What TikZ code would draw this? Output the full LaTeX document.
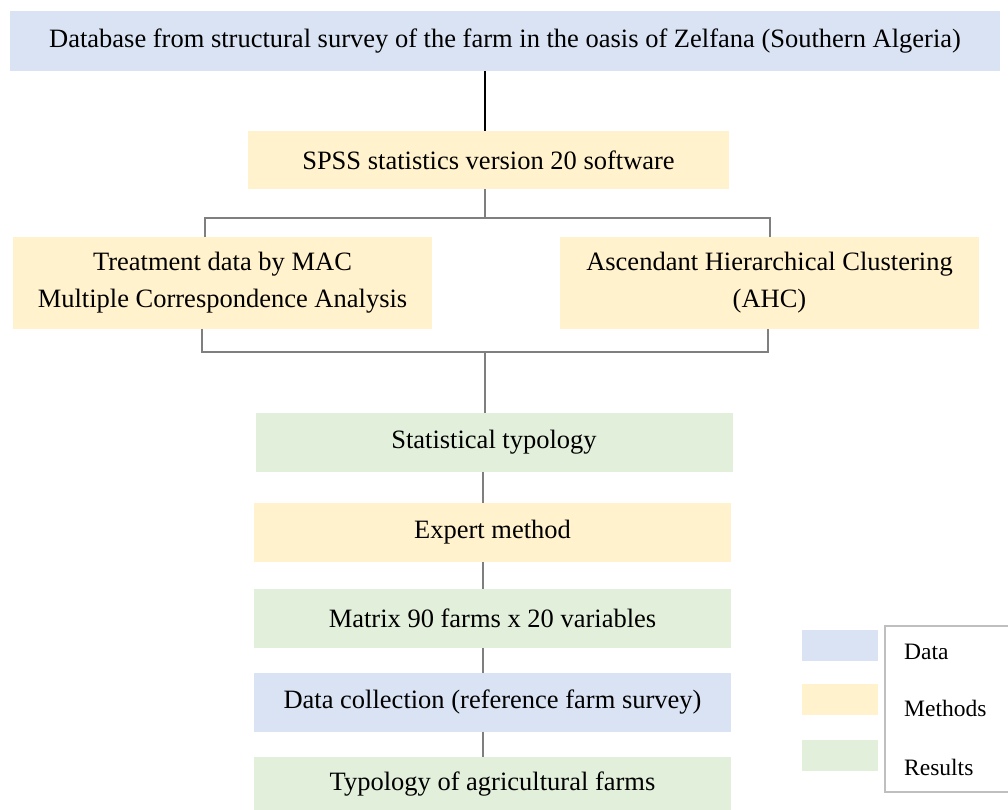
\documentclass[tikz,border=0pt]{standalone}
\usepackage{fontspec}
\setmainfont{Liberation Serif}
\definecolor{cdata}{HTML}{DAE3F3}
\definecolor{cmeth}{HTML}{FFF2CC}
\definecolor{cres}{HTML}{E2EFDA}
\definecolor{cline}{HTML}{7F7F7F}
\definecolor{cleg}{HTML}{BFBFBF}
\begin{document}
\begin{tikzpicture}[x=1pt,y=-1pt,
  box/.style={fill=#1,draw=none,inner sep=0pt,align=center,font=\fontsize{26.5}{37}\selectfont},
  swatch/.style={fill=#1,draw=none,inner sep=0pt,minimum width=76pt,minimum height=31pt},
  leg/.style={anchor=west,inner sep=0pt,font=\fontsize{23.5}{28}\selectfont},
  conn/.style={draw=cline,line width=1.5pt},
  topconn/.style={draw=black,line width=1.5pt}]
\useasboundingbox (0,0) rectangle (1008,810);
\node[box=cdata,minimum width=990pt,minimum height=60pt] (top) at (505,41) {Database from structural survey of the farm in the oasis of Zelfana (Southern Algeria)};
\node[box=cmeth,minimum width=481pt,minimum height=58pt] (spss) at (488.5,160) {SPSS statistics version 20 software};
\node[box=cmeth,minimum width=419pt,minimum height=92pt] (mca) at (222.5,283) {Treatment data by MAC\\Multiple Correspondence Analysis};
\node[box=cmeth,minimum width=419pt,minimum height=92pt] (ahc) at (769.5,283) {Ascendant Hierarchical Clustering\\(AHC)};
\node[box=cres,minimum width=477pt,minimum height=59pt] (stat) at (494,442.5) {Statistical typology};
\node[box=cmeth,minimum width=477pt,minimum height=59pt] (exp) at (492.5,532.5) {Expert method};
\node[box=cres,minimum width=477pt,minimum height=59pt] (mat) at (492.5,618.5) {Matrix 90 farms x 20 variables};
\node[box=cdata,minimum width=477pt,minimum height=59pt] (col) at (492.5,702.5) {Data collection (reference farm survey)};
\node[box=cres,minimum width=477pt,minimum height=54pt] (typ) at (492.5,784) {Typology of agricultural farms};
% connectors
\coordinate (v1) at (485,218);
\coordinate (ul) at (205,218);
\coordinate (ur) at (770,218);
\coordinate (ll) at (202,352);
\coordinate (lr) at (768,352);
\coordinate (v2) at (485,352);
\coordinate (v3) at (483,352);
\draw[topconn] (top.south -| v1) -- (spss.north -| v1);
\draw[conn] (spss.south -| v1) -- (v1);
\draw[conn] (mca.north -| ul) -- (ul) -- (ur) -- (ahc.north -| ur);
\draw[conn] (mca.south -| ll) -- (ll) -- (lr) -- (ahc.south -| lr);
\draw[conn] (v2) -- (stat.north -| v2);
\draw[conn] (stat.south -| v3) -- (exp.north -| v3);
\draw[conn] (exp.south -| v3) -- (mat.north -| v3);
\draw[conn] (mat.south -| v3) -- (col.north -| v3);
\draw[conn] (col.south -| v3) -- (typ.north -| v3);
% legend
\node[draw=cleg,line width=1.5pt,minimum width=130pt,minimum height=166pt,inner sep=0pt,anchor=north west] (legbox) at (884,625) {};
\node[swatch=cdata] (sd) at (840,645.5) {};
\node[swatch=cmeth] (sm) at (840,699.5) {};
\node[swatch=cres] (sr) at (840,755.5) {};
\node[leg] (ld) at (904,652) {Data};
\node[leg] (lm) at (904,708) {Methods};
\node[leg] (lr2) at (904,767) {Results};
\end{tikzpicture}
\end{document}
